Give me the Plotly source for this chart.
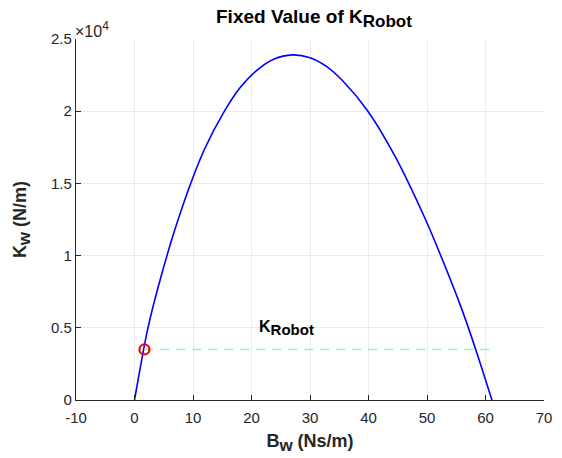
import plotly.graph_objects as go

# Curve: B_w (Ns/m) vs K_w (N/m)
b_w = [0, 2.3, 4.5, 6.9, 9.7, 12.0, 15.3, 18.0, 20.9, 23.8, 27.0, 30.0, 32.8, 35.5,
       39.9, 44.5, 49.8, 52.2, 55.8, 58.3, 61.1]
k_w = [0, 5000, 8500, 11800, 15100, 17400, 19950, 21600, 22830, 23600, 23900, 23700, 23100, 22140,
       20000, 16900, 12450, 10150, 6450, 3540, 0]

# Fixed K_Robot level
k_robot = 3500
robot_b_range = [1.7, 60.6]
robot_point_b = [1.7]
robot_point_k = [3500]

x_ticks = [-10, 0, 10, 20, 30, 40, 50, 60, 70]
x_tick_text = ["-10", "0", "10", "20", "30", "40", "50", "60", "70"]
y_tick_vals = [0, 5000, 10000, 15000, 20000, 25000]
y_tick_text = ["0", "0.5", "1", "1.5", "2", "2.5"]

FONT = "Liberation Sans, Arial, sans-serif"
AX = "#262626"

fig = go.Figure()
fig.add_trace(go.Scatter(x=b_w, y=k_w, mode="lines",
                         line=dict(color="#0000ff", width=1.6, shape="spline", smoothing=0.8),
                         hoverinfo="skip", showlegend=False))
fig.add_trace(go.Scatter(x=robot_b_range, y=[k_robot, k_robot], mode="lines",
                         line=dict(color="#a6eea6", width=1.6, dash="9px,7px"),
                         showlegend=False))
fig.add_trace(go.Scatter(x=robot_point_b, y=robot_point_k, mode="markers",
                         marker=dict(symbol="circle-open", size=10, color="#ff0000",
                                     line=dict(width=2.2, color="#ff0000")),
                         showlegend=False))

fig.add_annotation(x=21, y=5000, xref="x", yref="y", xanchor="left", yanchor="middle",
                   text="<b>K<sub><span style='font-size:15px'>Robot</span></sub></b>",
                   showarrow=False, font=dict(family=FONT, size=16, color="#000000"))

fig.add_annotation(x=0, y=1, xref="paper", yref="paper", xanchor="left", yanchor="bottom",
                   text="×10<sup><span style='font-size:12px'>4</span></sup>", showarrow=False,
                   yshift=-3, xshift=-3,
                   font=dict(family=FONT, size=16, color=AX))

fig.update_layout(
    width=562, height=458,
    margin=dict(l=76, r=10, t=39, b=58),
    paper_bgcolor="white", plot_bgcolor="white",
    font=dict(family=FONT, size=15, color=AX),
    title=dict(text="<b>Fixed Value of K<sub><span style='font-size:17px'>Robot</span></sub></b>",
               x=0.5 + 4 / 476, xref="paper", xanchor="center",
               y=1 - 16 / 458, yref="container", yanchor="middle",
               font=dict(family=FONT, size=19, color="#000000")),
    xaxis=dict(range=[-10, 70], tickvals=x_ticks, ticktext=x_tick_text, ticks="inside", ticklen=5,
               tickcolor=AX, showline=True, linecolor=AX, linewidth=1.2, ticklabelstandoff=4,
               showgrid=True, gridcolor="#ebebeb", gridwidth=1, zeroline=False,
               tickfont=dict(family=FONT, size=15, color=AX),
               title=dict(text="<b>B<sub><span style='font-size:17px'>w</span></sub> (Ns/m)</b>",
                          font=dict(family=FONT, size=18, color=AX), standoff=9)),
    yaxis=dict(range=[0, 25000], tickvals=y_tick_vals, ticktext=y_tick_text,
               ticks="inside", ticklen=5, tickcolor=AX, showline=True, linecolor=AX,
               linewidth=1.2, showgrid=True, gridcolor="#ebebeb", gridwidth=1,
               zeroline=False, tickfont=dict(family=FONT, size=15, color=AX),
               title=dict(text="<b>K<sub><span style='font-size:17px'>w</span></sub> (N/m)</b>",
                          font=dict(family=FONT, size=18, color=AX), standoff=19)),
)

fig.write_html("out.html", config={"displayModeBar": False},
               post_script="document.body.style.margin='0';")
